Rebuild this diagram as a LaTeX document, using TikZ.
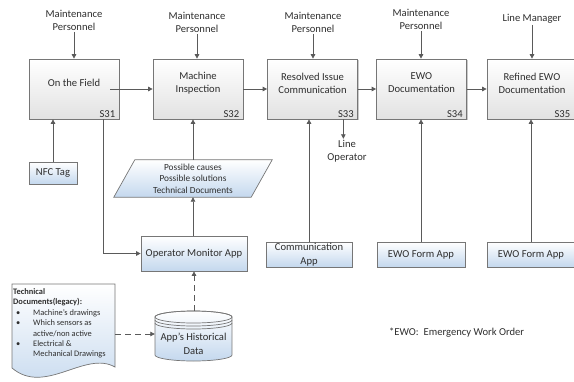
\documentclass[tikz,border=0pt]{standalone}
\usepackage{fontspec}
\setmainfont{Carlito}
\usetikzlibrary{arrows.meta,calc,shadows}
\definecolor{txtc}{HTML}{2E2E2E}
\definecolor{bordc}{HTML}{767676}
\definecolor{arrc}{HTML}{5A5A5A}
\definecolor{mainbot}{HTML}{E2E2E2}
\definecolor{appbot}{HTML}{C4D8EE}
\tikzset{
  txt/.style={font=\fontsize{10.6}{13}\selectfont, text=txtc, align=center, inner sep=1pt},
  smalltxt/.style={font=\fontsize{9.3}{11.5}\selectfont, text=txtc, align=center, inner sep=0pt},
  doctxt/.style={font=\fontsize{8.4}{10.4}\selectfont, text=txtc, align=left, inner sep=0pt},
  shd/.style={drop shadow={shadow xshift=1.3pt, shadow yshift=-1.3pt, opacity=0.35, fill=black!60}},
  mainbox/.style={draw=bordc, line width=0.7pt, top color=white, bottom color=mainbot,
     minimum width=90pt, minimum height=60pt, inner sep=0pt, shd},
  appbox/.style={draw=bordc, line width=0.7pt, top color=white, bottom color=appbot,
     inner sep=0pt, minimum height=25pt, shd, font=\fontsize{10.6}{13.5}\selectfont, text=txtc, align=center},
  shapefill/.style={top color=white, bottom color=appbot},
  shapeline/.style={draw=bordc, line width=0.7pt},
  arr/.style={draw=arrc, line width=0.8pt, -{Triangle[length=4.5pt,width=4.5pt]}},
  dasharr/.style={arr, dash pattern=on 6pt off 4pt},
}
\begin{document}
\begin{tikzpicture}[x=1pt,y=-1pt]
\useasboundingbox (0,0) rectangle (574,381);

% main process boxes
\node[mainbox] (s31) at (74,89) {};
\node[mainbox] (s32) at (198,89) {};
\node[mainbox] (s33) at (312.5,89) {};
\node[mainbox] (s34) at (421.5,89) {};
\node[mainbox] (s35) at (532,89) {};

\node[txt] (t31) at ($(s31.center)+(0,-6)$) {On the Field};
\node[txt] (t32) at ($(s32.center)+(0,-6)$) {Machine\\Inspection};
\node[txt] (t33) at ($(s33.center)+(0,-6)$) {Resolved Issue\\Communication};
\node[txt] (t34) at ($(s34.center)+(0,-6)$) {EWO\\Documentation};
\node[txt] (t35) at ($(s35.center)+(0,-6)$) {Refined EWO\\Documentation};

\node[txt, anchor=base east] (n31) at ($(s31.south east)+(-3,-2)$) {S31};
\node[txt, anchor=base east] (n32) at ($(s32.south east)+(-3,-2)$) {S32};
\node[txt, anchor=base east] (n33) at ($(s33.south east)+(-3,-2)$) {S33};
\node[txt, anchor=base east] (n34) at ($(s34.south east)+(-3,-2)$) {S34};
\node[txt, anchor=base east] (n35) at ($(s35.south east)+(-6,-2)$) {S35};

% actors above
\node[txt] (m31) at (74,20.5) {Maintenance\\Personnel};
\node[txt] (m32) at (197,22.5) {Maintenance\\Personnel};
\node[txt] (m33) at (313,22.5) {Maintenance\\Personnel};
\node[txt] (m34) at (421,19.5) {Maintenance\\Personnel};
\node[txt] (lm) at (532,19) {Line Manager};

\draw[arr] (m31.south) -- (m31.south |- s31.north);
\draw[arr] (m32.south) -- (m32.south |- s32.north);
\draw[arr] (m33.south) -- (m33.south |- s33.north);
\draw[arr] (m34.south) -- (m34.south |- s34.north);
\draw[arr] (lm.south) -- (lm.south |- s35.north);

% flow between boxes
\coordinate (c31) at ($(s31.east)+(-9,0)$);
\draw[arr] (c31) -- (s32.west);
\draw[arr] (s32.east) -- (s33.west);
\draw[arr] (s33.east) -- (s34.west);
\draw[arr] (s34.east) -- (s35.west);

% line operator
\node[txt] (lo) at (347,151) {Line\\Operator};
\coordinate (lo0) at ($(s33.south east)+(-14.5,0)$);
\draw[arr] (lo0) -- (lo0 |- lo.north);

% NFC tag
\node[appbox, minimum width=48pt, minimum height=22pt] (nfc) at (53,173) {NFC Tag};
\draw[arr] (nfc.north) -- (nfc.north |- s31.south);

% parallelogram
\node[minimum width=137pt, minimum height=37pt, inner sep=0pt] (pd) at (193,178.5) {};
\path[shapefill, shapeline] ($(pd.south west)+(-10.5,0)$) -- ($(pd.north west)+(10.5,0)$)
   -- ($(pd.north east)+(10.5,0)$) -- ($(pd.south east)+(-10.5,0)$) -- cycle;
\node[smalltxt] (pdt) at (pd.center) {Possible causes\\Possible solutions\\Technical Documents};
\draw[arr] (pd.north) -- (pd.north |- s32.south);

% operator monitor app
\node[appbox, minimum width=106pt, minimum height=35pt] (oma) at (194,253.5) {Operator Monitor App};
\draw[arr] (oma.north -| pd.north) -- (pd.south);
\coordinate (c31b) at ($(s31.south east)+(-16,0)$);
\draw[arr] (c31b) |- (oma.west);

% historical data cylinder
\node[minimum width=77pt, minimum height=50pt, inner sep=0pt] (hd) at (193.5,336) {};
\path[shapefill, shapeline] (155,317) -- (155,355)
   arc[start angle=180, end angle=360, x radius=38.5pt, y radius=6pt] -- (232,317)
   arc[start angle=0, end angle=180, x radius=38.5pt, y radius=6pt] -- cycle;
\draw[shapeline] (193.5,317) ellipse [x radius=38.5pt, y radius=6pt];
\draw[shapeline] (155,320) arc[start angle=180, end angle=360, x radius=38.5pt, y radius=6pt];
\draw[shapeline] (155,323) arc[start angle=180, end angle=360, x radius=38.5pt, y radius=6pt];
\node[txt, font=\fontsize{10.6}{14}\selectfont] (hdt) at (193.5,344) {App’s Historical\\Data};
\draw[dasharr] (hd.north -| oma.south) -- (oma.south);

% technical documents (legacy)
\node[minimum width=103pt, minimum height=83pt, inner sep=0pt] (doc) at (63.5,325.5) {};
\path[shapefill, shapeline] (12,284) -- (115,284) -- (115,367)
   .. controls (85,350) and (45,396) .. (12,368) -- cycle;
\node[doctxt, anchor=north west] (doct) at (13,288.5) {%
\textbf{Technical}\\
\textbf{Documents(legacy):}\\
\hspace*{3pt}\makebox[17pt][l]{\textbullet}Machine’s drawings\\
\hspace*{3pt}\makebox[17pt][l]{\textbullet}Which sensors as\\
\hspace*{20pt}active/non active\\
\hspace*{3pt}\makebox[17pt][l]{\textbullet}Electrical \&\\
\hspace*{20pt}Mechanical Drawings};
\draw[dasharr] (doc.east |- 0,334) -- (hd.west |- 0,334);

% communication app and EWO form apps
\node[appbox, minimum width=86pt] (ca) at (309,254.5) {Communication\\App};
\draw[arr] (ca.north) -- (ca.north |- s33.south);
\node[appbox, minimum width=88pt] (ef1) at (421,254.5) {EWO Form App};
\draw[arr] (ef1.north) -- (ef1.north |- s34.south);
\node[appbox, minimum width=88pt] (ef2) at (531,254.5) {EWO Form App};
\draw[arr] (ef2.north) -- (ef2.north |- s35.south);

% footnote
\node[txt, anchor=west] (fn) at (388,333) {*EWO:\ \ Emergency Work Order};
\end{tikzpicture}
\end{document}
